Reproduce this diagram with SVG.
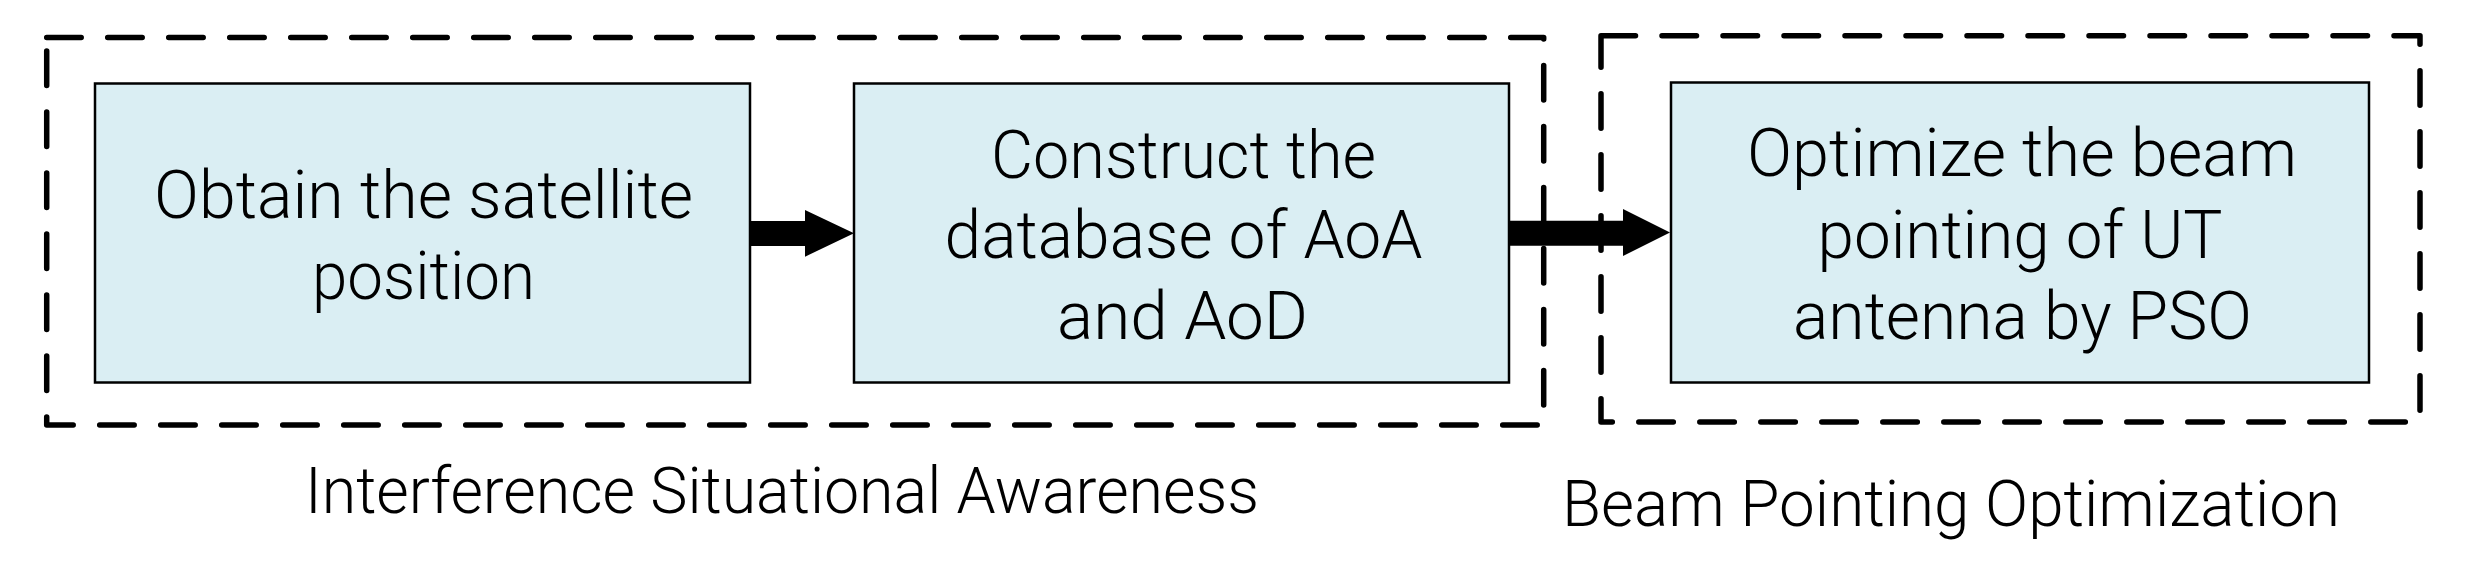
<svg xmlns="http://www.w3.org/2000/svg" width="2468" height="564" viewBox="0 0 2468 564">
  <style>
    .frame { fill: none; stroke: #000; stroke-width: 5.5; stroke-dasharray: 34.5 26.5; stroke-linecap: round; stroke-linejoin: round; }
    .node { fill: #DAEEF3; stroke: #000; stroke-width: 2.5; }
    .t { font-family: "Roboto", "Liberation Sans", "DejaVu Sans", sans-serif; font-weight: 300; font-size: 66px; fill: #000; text-anchor: middle; }
    .lbl { font-family: "Roboto", "Liberation Sans", "DejaVu Sans", sans-serif; font-weight: 300; font-size: 64px; fill: #000; }
    .arrow { fill: #000; stroke: none; }
  </style>

  <g id="group-interference-awareness">
    <rect class="frame" x="46.7" y="37.5" width="1497" height="387.5"/>
    <text class="lbl" x="305" y="512.5" textLength="954" lengthAdjust="spacingAndGlyphs">Interference Situational Awareness</text>
  </g>

  <g id="group-beam-pointing">
    <rect class="frame" x="1601" y="35.7" width="819" height="386.3"/>
    <text class="lbl" x="1562" y="526" textLength="778" lengthAdjust="spacingAndGlyphs">Beam Pointing Optimization</text>
  </g>

  <g id="node-obtain">
    <rect class="node" x="95" y="83.5" width="655" height="299"/>
    <text class="t" x="423.5" y="217.5" textLength="539" lengthAdjust="spacingAndGlyphs">Obtain the satellite</text>
    <text class="t" x="423.5" y="298.5" textLength="223" lengthAdjust="spacingAndGlyphs">position</text>
  </g>

  <g id="node-construct">
    <rect class="node" x="854" y="83.5" width="655" height="299"/>
    <text class="t" x="1183.5" y="177.5" textLength="385" lengthAdjust="spacingAndGlyphs">Construct the</text>
    <text class="t" x="1183.5" y="258" textLength="478" lengthAdjust="spacingAndGlyphs">database of AoA</text>
    <text class="t" x="1182.5" y="339" textLength="251" lengthAdjust="spacingAndGlyphs">and AoD</text>
  </g>

  <g id="node-optimize">
    <rect class="node" x="1671" y="82.5" width="698" height="300"/>
    <text class="t" x="2022" y="175.5" textLength="550" lengthAdjust="spacingAndGlyphs">Optimize the beam</text>
    <text class="t" x="2020" y="258" textLength="405" lengthAdjust="spacingAndGlyphs">pointing of UT</text>
    <text class="t" x="2022.5" y="339" textLength="459" lengthAdjust="spacingAndGlyphs">antenna by PSO</text>
  </g>

  <g id="connectors">
    <polygon class="arrow" points="750,221 805,221 805,210 854,233.3 805,256.7 805,246 750,246"/>
    <polygon class="arrow" points="1509,220.7 1623,220.7 1623,209 1670,232.5 1623,256 1623,245.7 1509,245.7"/>
  </g>
</svg>
